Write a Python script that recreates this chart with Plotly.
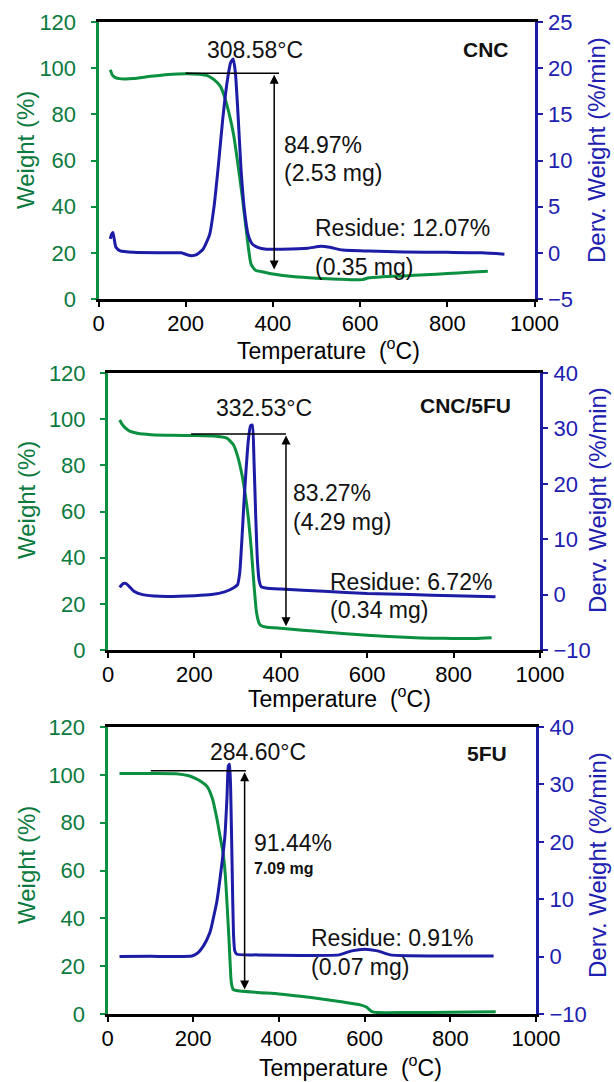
import plotly.graph_objects as go

# ---------------- data ----------------
# CNC
cnc_temp = [27, 32, 40, 60, 80, 120, 160, 200, 230, 250, 265, 280, 290, 300, 310, 320,
            330, 340, 350, 360, 375, 400, 450, 500, 550, 590, 605, 620, 650, 700, 750,
            800, 850, 893]
cnc_weight = [99.3, 97.0, 95.8, 95.3, 95.5, 96.5, 97.3, 97.6, 97.4, 96.8, 95.0, 92.0, 87.0,
              80.0, 71.0, 58.0, 44.0, 28.0, 15.0, 12.5, 11.8, 10.8, 9.6, 9.0, 8.6, 8.3,
              8.4, 9.2, 9.6, 10.0, 10.5, 11.0, 11.6, 12.07]
cnc_dtemp = [27, 30, 33, 36, 40, 50, 80, 150, 190, 210, 225, 240, 255, 265, 275, 285, 295,
             303, 309, 314, 320, 327, 335, 343, 352, 365, 385, 420, 480, 510, 530, 560,
             620, 700, 800, 880, 931]
cnc_deriv = [1.5, 2.0, 2.2, 1.5, 0.6, 0.2, 0.05, 0.0, 0.0, -0.3, -0.2, 0.4, 2.0, 5.0, 9.5,
             14.5, 18.5, 20.6, 21.0, 19.5, 15.0, 9.0, 4.5, 2.0, 1.0, 0.6, 0.4, 0.4, 0.5,
             0.7, 0.6, 0.3, 0.2, 0.1, 0.05, 0.0, -0.15]

# CNC/5FU
cf_temp = [27, 32, 40, 50, 70, 100, 150, 200, 250, 275, 290, 300, 310, 318, 325, 332, 338,
           344, 350, 355, 365, 400, 450, 500, 600, 700, 750, 800, 850, 888]
cf_weight = [99.6, 98.0, 96.2, 94.8, 93.8, 93.3, 93.0, 92.9, 92.6, 91.8, 89.0, 84.0, 76.0,
             67.0, 57.0, 43.0, 28.0, 16.0, 11.5, 10.5, 10.0, 9.4, 8.6, 7.8, 6.4, 5.4, 5.1,
             5.0, 5.0, 5.3]
cf_dtemp = [27, 35, 42, 50, 60, 80, 120, 200, 240, 270, 290, 300, 305, 310, 315, 320, 325,
            330, 334, 338, 342, 346, 350, 355, 365, 400, 500, 600, 700, 800, 897]
cf_deriv = [1.3, 2.0, 2.0, 1.4, 0.6, 0.0, -0.3, -0.2, 0.0, 0.5, 1.2, 1.8, 4.0, 10.0, 17.0,
            23.0, 28.0, 30.5, 30.6, 24.0, 14.0, 6.0, 2.5, 1.4, 1.2, 1.0, 0.6, 0.2, 0.0,
            -0.2, -0.4]

# 5FU
fu_temp = [28, 100, 160, 190, 205, 220, 233, 245, 256, 263, 270, 275, 279, 283, 286, 288,
           290, 293, 300, 350, 400, 450, 500, 550, 590, 605, 617, 630, 700, 800, 906]
fu_weight = [100.6, 100.6, 100.5, 99.6, 98.5, 97.0, 95.0, 90.0, 81.0, 74.0, 67.0, 58.0,
             46.0, 33.0, 22.0, 15.0, 12.0, 10.3, 9.8, 9.0, 8.4, 7.4, 6.3, 5.0, 3.8, 2.8,
             1.0, 0.6, 0.6, 0.7, 0.9]
fu_dtemp = [28, 100, 197, 210, 225, 238, 242, 245, 255, 265, 274, 279, 282, 285, 288, 291,
            294, 297, 302, 350, 450, 540, 570, 600, 630, 660, 700, 800, 901]
fu_deriv = [0.0, 0.05, 0.1, 0.6, 2.0, 4.0, 5.0, 6.0, 9.5, 15.0, 21.0, 28.0, 33.2, 33.5,
            27.0, 15.0, 4.0, 1.0, 0.4, 0.3, 0.2, 0.3, 1.0, 1.3, 1.0, 0.3, 0.15, 0.1, 0.1]

# sample names and annotation values per panel
sample_names = ["CNC", "CNC/5FU", "5FU"]
peak_labels = ["308.58°C", "332.53°C", "284.60°C"]
onset_level = [97.8, 93.6, 101.7]          # weight (%) of the plateau marker line
onset_span = [(200, 414), (192, 412), (101, 323)]
arrow_temp = [403, 412, 320]
loss_pct = [84.97, 83.27, 91.44]
loss_label = ["84.97%", "83.27%", "91.44%"]
loss_mass = ["(2.53 mg)", "(4.29 mg)", "<b>7.09 mg</b>"]
residue_label = ["Residue: 12.07%", "Residue: 6.72%", "Residue: 0.91%"]
residue_mass = ["(0.35 mg)", "(0.34 mg)", "(0.07 mg)"]

deriv_ranges = [(-5, 25), (-10, 40), (-10, 40)]
deriv_dtick = [5, 10, 10]

# ---------------- styling ----------------
GREEN = "#0a9040"
GREEN_TXT = "#0b7a3e"
BLUE = "#1c1ca6"
BLUE_TXT = "#2020b0"
FONT = "Liberation Sans, Arial, sans-serif"
W, H = 614, 1082

# panel frames in pixels: (left, right, top, bottom)
frames = [(98.5, 534.5, 22, 299), (108, 540, 373, 650), (107.5, 536, 727, 1014)]

series = [
    (cnc_temp, cnc_weight, cnc_dtemp, cnc_deriv),
    (cf_temp, cf_weight, cf_dtemp, cf_deriv),
    (fu_temp, fu_weight, fu_dtemp, fu_deriv),
]

# text placement (data coordinates of each panel)
peak_pos = [(358, 108), (362, 104.7), (352, 109.7)]
name_pos = [(946, 108), (938, 106), (937, 109)]
loss_pos = [(421, 66.7, 54.5), (423, 68, 55.6), (338, 71.4, 61)]
residue_pos = [(492, 30.7, 14), (510, 29.6, 17.3), (471, 31.6, 19.8)]
mass_size = [23, 23, 16]

# axis-title placement in pixels
ytitle_y = [150, 500, 865]
xtitle_pos = [(328, 349), (339, 697), (350, 1066)]

fig = go.Figure()
layout = dict(
    template="none",
    width=W, height=H,
    margin=dict(l=0, r=0, t=0, b=0, autoexpand=False),
    paper_bgcolor="white", plot_bgcolor="white",
    showlegend=False,
    font=dict(family=FONT, size=22, color="black"),
)
annotations = []
shapes = []

for i, (t_w, w, t_d, d) in enumerate(series):
    n = i + 1
    xa = "x" if n == 1 else f"x{n}"
    ya = "y" if n == 1 else f"y{2 * n - 1}"
    yb = f"y{2 * n}"
    xkey = "xaxis" if n == 1 else f"xaxis{n}"
    ykey = "yaxis" if n == 1 else f"yaxis{2 * n - 1}"
    ybkey = f"yaxis{2 * n}"
    l, r, t, b = frames[i]

    layout[xkey] = dict(
        domain=[l / W, r / W], range=[0, 1000], anchor=ya, automargin=False,
        tickmode="array", tickvals=[0, 200, 400, 600, 800, 1000],
        ticks="outside", ticklen=5, tickwidth=2, tickcolor="black",
        showline=True, linecolor="black", linewidth=2.5, mirror=True,
        showgrid=False, zeroline=False,
        tickfont=dict(family=FONT, size=22, color="black"),
        ticklabelstandoff=-2,
    )
    layout[ykey] = dict(
        domain=[1 - b / H, 1 - t / H], range=[0, 120], anchor=xa, automargin=False,
        tickmode="linear", tick0=0, dtick=20,
        ticks="outside", ticklen=5, tickwidth=2, tickcolor=GREEN,
        showline=True, linecolor=GREEN, linewidth=3,
        showgrid=False, zeroline=False,
        tickfont=dict(family=FONT, size=22, color=GREEN_TXT),
        ticklabelstandoff=10,
    )
    lo, hi = deriv_ranges[i]
    layout[ybkey] = dict(
        overlaying=ya, side="right", anchor=xa, range=[lo, hi], automargin=False,
        tickmode="linear", tick0=lo, dtick=deriv_dtick[i],
        ticks="outside", ticklen=5, tickwidth=2, tickcolor=BLUE,
        showline=True, linecolor=BLUE, linewidth=3,
        showgrid=False, zeroline=False,
        tickfont=dict(family=FONT, size=22, color=BLUE_TXT),
        ticklabelstandoff=1,
    )

    fig.add_trace(go.Scatter(x=t_w, y=w, xaxis=xa, yaxis=ya, mode="lines",
                             line=dict(color=GREEN, width=3, shape="spline", smoothing=0.5),
                             hoverinfo="skip"))
    fig.add_trace(go.Scatter(x=t_d, y=d, xaxis=xa, yaxis=yb, mode="lines",
                             line=dict(color=BLUE, width=3, shape="spline", smoothing=0.5),
                             hoverinfo="skip"))

    # plateau marker line and weight-loss arrow
    x0, x1 = onset_span[i]
    shapes.append(dict(type="line", xref=xa, yref=ya, x0=x0, x1=x1,
                       y0=onset_level[i], y1=onset_level[i],
                       line=dict(color="black", width=1.5)))
    annotations.append(dict(
        xref=xa, yref=ya, axref=xa, ayref=ya,
        x=arrow_temp[i], y=onset_level[i] - loss_pct[i],
        ax=arrow_temp[i], ay=onset_level[i],
        text="", showarrow=True, arrowhead=2, startarrowhead=2,
        arrowside="end+start", arrowsize=1.2, startarrowsize=1.2,
        arrowwidth=1.5, arrowcolor="black", standoff=0, startstandoff=0,
    ))

    txt = dict(xref=xa, yref=ya, showarrow=False, yanchor="middle",
               font=dict(family=FONT, size=23, color="#111"))
    px_, py_ = peak_pos[i]
    annotations.append(dict(txt, x=px_, y=py_, text=peak_labels[i], xanchor="center"))
    nx_, ny_ = name_pos[i]
    annotations.append(dict(txt, x=nx_, y=ny_, text=f"<b>{sample_names[i]}</b>",
                            xanchor="right", font=dict(family=FONT, size=21, color="#111")))
    lx, ly1, ly2 = loss_pos[i]
    annotations.append(dict(txt, x=lx, y=ly1, text=loss_label[i], xanchor="left"))
    annotations.append(dict(txt, x=lx, y=ly2, text=loss_mass[i], xanchor="left",
                            font=dict(family=FONT, size=mass_size[i], color="#111")))
    rx, ry1, ry2 = residue_pos[i]
    annotations.append(dict(txt, x=rx, y=ry1, text=residue_label[i], xanchor="left"))
    annotations.append(dict(txt, x=rx, y=ry2, text=residue_mass[i], xanchor="left"))

    # axis titles
    annotations.append(dict(xref="paper", yref="paper", x=26 / W, y=1 - ytitle_y[i] / H,
                            xanchor="center", yanchor="middle",
                            text="Weight (%)", textangle=-90, showarrow=False,
                            font=dict(family=FONT, size=24, color=GREEN_TXT)))
    annotations.append(dict(xref="paper", yref="paper", x=597 / W, y=1 - ytitle_y[i] / H,
                            xanchor="center", yanchor="middle",
                            text="Derv. Weight (%/min)", textangle=-90, showarrow=False,
                            font=dict(family=FONT, size=24, color=BLUE_TXT)))
    tx, ty = xtitle_pos[i]
    annotations.append(dict(xref="paper", yref="paper", x=tx / W, y=1 - ty / H,
                            xanchor="center", yanchor="middle",
                            text="Temperature\u00a0 (<sup>o</sup>C)", showarrow=False,
                            font=dict(family=FONT, size=23, color="black")))

layout["annotations"] = annotations
layout["shapes"] = shapes
fig.update_layout(**layout)

fig.write_html("out.html")
